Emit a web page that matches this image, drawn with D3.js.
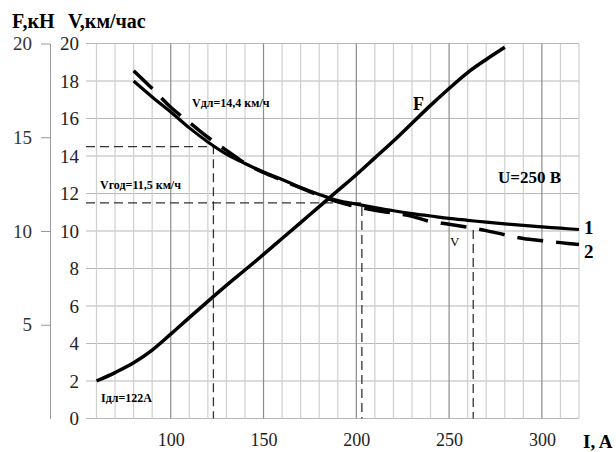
<!DOCTYPE html>
<html>
<head>
<meta charset="utf-8">
<script src="https://cdn.jsdelivr.net/npm/d3@7"></script>
<style>
  body { margin: 0; background: #fff; }
</style>
</head>
<body>
<div id="chart"></div>
<script>
var serif = "'Liberation Serif', 'Times New Roman', Times, 'DejaVu Serif', serif";

// current, A
var currents = [60, 70, 80, 90, 100, 110, 120, 130, 140, 150, 160, 170, 180, 190, 200, 210, 220, 230, 240, 250, 260, 270, 280];
// traction force F, kN
var forceF = [2.0, 2.45, 2.97, 3.65, 4.5, 5.38, 6.25, 7.1, 7.92, 8.75, 9.6, 10.45, 11.3, 12.15, 13.0, 13.9, 14.8, 15.75, 16.7, 17.6, 18.45, 19.15, 19.8];

// speed curves, km/h
var speedI = [80, 90, 100, 110, 120, 130, 140, 150, 160, 170, 180, 190, 200, 210, 220, 230, 240, 250, 260, 270, 280, 290, 300, 310, 320];
var speed1 = [18.0, 17.15, 16.35, 15.5, 14.75, 14.1, 13.6, 13.15, 12.75, 12.32, 11.95, 11.62, 11.43, 11.25, 11.08, 10.93, 10.8, 10.67, 10.57, 10.47, 10.38, 10.3, 10.22, 10.15, 10.08];
var speed2 = [18.55, 17.6, 16.6, 15.8, 15.0, 14.3, 13.62, 13.12, 12.7, 12.3, 11.9, 11.55, 11.3, 11.1, 10.95, 10.78, 10.5, 10.36, 10.2, 10.02, 9.8, 9.6, 9.48, 9.38, 9.28];

var xTicks = [100, 150, 200, 250, 300];
var vTicks = [0, 2, 4, 6, 8, 10, 12, 14, 16, 18, 20];
var fTicks = [5, 10, 15, 20];
var gridI = d3.range(60, 321, 10);

// reference points
var Idl = 123, Vdl = 14.5;
var Igod = 203, Vgod = 11.5;
var Iv = 263, Vv = 10.05;

var width = 616, height = 452;

var svg = d3.select("#chart").append("svg")
    .attr("width", width)
    .attr("height", height);

var x = d3.scaleLinear().domain([60, 320]).range([96.5, 579]);
var y = d3.scaleLinear().domain([0, 20]).range([418.5, 43.5]);
var gridLeft = 86;
var iLeft = x.invert(gridLeft);

// grid
svg.append("g").selectAll("line.h")
    .data(vTicks)
    .enter().append("line")
    .attr("x1", gridLeft).attr("x2", x(320))
    .attr("y1", function(d) { return y(d); })
    .attr("y2", function(d) { return y(d); })
    .attr("stroke", "#b8b8b8")
    .attr("stroke-width", 1.2);

svg.append("g").selectAll("line.v")
    .data(gridI)
    .enter().append("line")
    .attr("x1", function(d) { return x(d); })
    .attr("x2", function(d) { return x(d); })
    .attr("y1", y(20)).attr("y2", y(0))
    .attr("stroke", function(d) { return d % 50 == 0 ? "#8c8c8c" : "#cfcfcf"; })
    .attr("stroke-width", 1.2);

// V axis labels
var vAxis = svg.append("g")
    .attr("transform", "translate(" + gridLeft + ",0)")
    .call(d3.axisLeft(y).tickValues(vTicks).tickSize(0).tickPadding(7));
vAxis.select(".domain").remove();
vAxis.attr("font-family", serif).attr("font-size", 19);
vAxis.selectAll("text").attr("fill", "#222");

// F axis on the far left
var fAxis = svg.append("g")
    .attr("transform", "translate(50,0)")
    .call(d3.axisLeft(y).tickValues(fTicks).tickSize(9).tickSizeOuter(0).tickPadding(9));
fAxis.attr("font-family", serif).attr("font-size", 19);
fAxis.select(".domain").attr("stroke", "#999");
fAxis.selectAll(".tick line").attr("stroke", "#999");
fAxis.selectAll("text").attr("fill", "#333");

// x axis labels
var xAxis = svg.append("g")
    .attr("transform", "translate(0," + y(0) + ")")
    .call(d3.axisBottom(x).tickValues(xTicks).tickSize(0).tickPadding(15));
xAxis.select(".domain").remove();
xAxis.attr("font-family", serif).attr("font-size", 18);
xAxis.selectAll("text").attr("fill", "#222");

// dashed helper lines
var helpers = [
    [[iLeft, Vdl], [Idl, Vdl], [Idl, 0]],
    [[iLeft, Vgod], [Igod, Vgod], [Igod, 0]],
    [[Iv, Vv], [Iv, 0]]
];
var helperLine = d3.line()
    .x(function(d) { return x(d[0]); })
    .y(function(d) { return y(d[1]); });
svg.append("g").selectAll("path")
    .data(helpers)
    .enter().append("path")
    .attr("d", helperLine)
    .attr("fill", "none")
    .attr("stroke", "#333")
    .attr("stroke-width", 1.3)
    .attr("stroke-dasharray", "9,5");

// curves
var line = d3.line()
    .x(function(d) { return x(d[0]); })
    .y(function(d) { return y(d[1]); })
    .curve(d3.curveCatmullRom);

svg.append("path")
    .datum(d3.zip(currents, forceF))
    .attr("d", line)
    .attr("fill", "none")
    .attr("stroke", "#000")
    .attr("stroke-width", 3.5);

svg.append("path")
    .datum(d3.zip(speedI, speed1))
    .attr("d", line)
    .attr("fill", "none")
    .attr("stroke", "#000")
    .attr("stroke-width", 3.2);

svg.append("path")
    .datum(d3.zip(speedI, speed2))
    .attr("d", line)
    .attr("fill", "none")
    .attr("stroke", "#000")
    .attr("stroke-width", 3.5)
    .attr("stroke-dasharray", "26,13");

// texts
function label(txt, px, py, size, bold, anchor) {
    svg.append("text")
        .attr("x", px).attr("y", py)
        .attr("font-family", serif)
        .attr("font-size", size)
        .attr("font-weight", bold ? "bold" : "normal")
        .attr("text-anchor", anchor || "start")
        .attr("fill", "#000")
        .text(txt);
}

label("F,кН", 12, 28, 20, true);
label("V,км/час", 68, 28, 20, true);
label("I, A", 583, 448, 19, true);
label("F", 413, 110, 18, true);
label("U=250 В", 498, 183, 17, true);
label("1", 584, 234, 19, true);
label("2", 584, 258, 19, true);
label("V", 450, 246, 13, false);
label("Vдл=14,4 км/ч", 192, 107, 12, true);
label("Vгод=11,5 км/ч", 100, 189, 12, true);
label("Iдл=122A", 101, 402, 12, true);
</script>
</body>
</html>
